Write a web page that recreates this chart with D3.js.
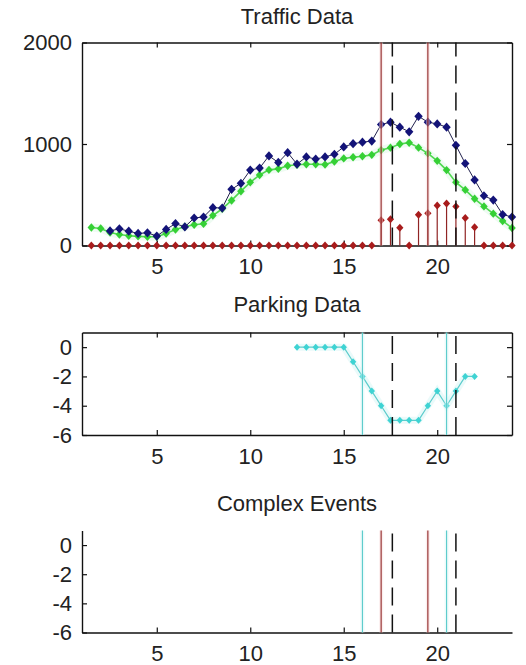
<!DOCTYPE html>
<html>
<head>
<meta charset="utf-8">
<script src="https://cdn.jsdelivr.net/npm/d3@7"></script>
<style>
  html, body { margin: 0; padding: 0; background: #fff; }
  svg text { font-family: "Liberation Sans", Arial, sans-serif; fill: #222; }
</style>
</head>
<body>
<svg id="chart" width="526" height="665"></svg>
<script>
// ---------------- data ----------------
const hours = [1.5, 2, 2.5, 3, 3.5, 4, 4.5, 5, 5.5, 6,
               6.5, 7, 7.5, 8, 8.5, 9, 9.5, 10, 10.5, 11,
               11.5, 12, 12.5, 13, 13.5, 14, 14.5, 15, 15.5, 16,
               16.5, 17, 17.5, 18, 18.5, 19, 19.5, 20, 20.5, 21,
               21.5, 22, 22.5, 23, 23.5, 24];
const trafficBlue = [null, null, 144, 164, 141, 119, 125, 93, 158, 216,
                     183, 271, 281, 373, 369, 553, 613, 743, 763, 883,
                     818, 915, 802, 873, 851, 873, 899, 971, 1003, 1018,
                     1029, 1192, 1215, 1166, 1120, 1273, 1215, 1198, 1166, 987,
                     808, 646, 490, 448, 305, 281];
const trafficGreen = [178, 168, 128, 108, 96, 90, 86, 86, 118, 158,
                      185, 205, 214, 295, 362, 444, 535, 622, 695, 745,
                      755, 785, 795, 800, 800, 797, 827, 858, 870, 880,
                      893, 940, 964, 1000, 1013, 964, 908, 834, 743, 622,
                      548, 460, 385, 314, 242, 172];
const trafficRed = [0, 0, 0, 0, 0, 0, 0, 0, 0, 0,
                    0, 0, 0, 0, 0, 0, 0, 0, 0, 0,
                    0, 0, 0, 0, 0, 0, 0, 0, 0, 0,
                    0, 249, 259, 174, 0, 302, 317, 395, 415, 385,
                    270, 180, 0, 0, 0, 0];
const parkingHours = [12.5, 13, 13.5, 14, 14.5, 15, 15.5, 16, 16.5, 17,
                      17.5, 18, 18.5, 19, 19.5, 20, 20.5, 21, 21.5, 22];
const parkingValues = [0, 0, 0, 0, 0, 0, -1, -2, -3, -4,
                       -5, -5, -5, -5, -4, -3, -4, -3, -2, -2];
const redEvents = [17, 19.5];
const cyanEvents = [16, 20.5];
const dashedEvents = [17.6, 21.0];
const xTicks = [5, 10, 15, 20];
const trafficYTicks = [0, 1000, 2000];
const parkingYTicks = [0, -2, -4, -6];
const titles = ["Traffic Data", "Parking Data", "Complex Events"];

// ---------------- layout ----------------
const svg = d3.select("#chart");
const FONT = 22;
const x = d3.scaleLinear().domain([1, 24]).range([82, 512]);
const yT = d3.scaleLinear().domain([0, 2000]).range([245.5, 42.5]);
const yP = d3.scaleLinear().domain([-6, 1]).range([435, 332.5]);
const yC = d3.scaleLinear().domain([-6, 1]).range([632.5, 530.5]);

const C = {
  blue: "#131378", blueLine: "#22224e",
  green: "#35d035", greenLine: "#4fd84f", greenHalo: "#ddf8e6",
  red: "#a81c1c", redLine: "#902424", redHalo: "#f8dada",
  cyan: "#3ed3d3", cyanLine: "#5ccccc", cyanHalo: "#d6f6f6"
};
const fmt = d => String(d);

function diamond(w, h) { return `M0,${-h}L${w},0L0,${h}L${-w},0Z`; }

function styleAxis(g, labels) {
  g.select(".domain").attr("stroke", "#111").attr("stroke-width", 1.4);
  g.selectAll(".tick line").attr("stroke", "#111").attr("stroke-width", 1.2);
  g.selectAll(".tick text").attr("font-size", FONT).attr("font-family", "Liberation Sans, Arial, sans-serif").attr("fill", "#222");
  if (!labels) g.selectAll(".tick text").remove();
}

function drawAxes(y, yTicks, box) {
  const [y0, y1] = y.range();
  const gb = svg.append("g").attr("transform", `translate(0,${y0})`)
    .call(d3.axisBottom(x).tickValues(xTicks).tickFormat(fmt).tickSizeInner(-5).tickSizeOuter(0).tickPadding(13));
  styleAxis(gb, true);
  const gl = svg.append("g").attr("transform", `translate(${x.range()[0]},0)`)
    .call(d3.axisLeft(y).tickValues(yTicks).tickFormat(fmt).tickSizeInner(-5).tickSizeOuter(0).tickPadding(10));
  styleAxis(gl, true);
  if (box) {
    const gt = svg.append("g").attr("transform", `translate(0,${y1})`)
      .call(d3.axisTop(x).tickValues(xTicks).tickSizeInner(-5).tickSizeOuter(0));
    styleAxis(gt, false);
    const gr = svg.append("g").attr("transform", `translate(${x.range()[1]},0)`)
      .call(d3.axisRight(y).tickValues(yTicks).tickSizeInner(-5).tickSizeOuter(0));
    styleAxis(gr, false);
  }
}

function eventLines(y, vals, color, halo, dashed) {
  const [y0, y1] = y.range();
  const g = svg.append("g");
  if (halo) {
    g.selectAll("line.h").data(vals).join("line")
      .attr("x1", d => x(d)).attr("x2", d => x(d))
      .attr("y1", y0).attr("y2", y1)
      .attr("stroke", halo).attr("stroke-width", 4).attr("opacity", 0.45);
  }
  g.selectAll("line.m").data(vals).join("line")
    .attr("x1", d => x(d)).attr("x2", d => x(d))
    .attr("y1", y0).attr("y2", y1)
    .attr("stroke", color).attr("stroke-width", dashed ? 1.5 : 1.1)
    .attr("stroke-dasharray", dashed ? "18,9" : null);
}

function title(text, cx, baseline) {
  svg.append("text").attr("x", cx).attr("y", baseline)
    .attr("text-anchor", "middle").attr("font-size", FONT).text(text);
}

// ---------------- panel 1: traffic ----------------
title(titles[0], 297, 23.5);
const traffic = hours.map((h, i) => ({ h, b: trafficBlue[i], g: trafficGreen[i], r: trafficRed[i] }));

const lineG = d3.line().x(d => x(d.h)).y(d => yT(d.g));
svg.append("path").datum(traffic).attr("d", lineG).attr("fill", "none")
  .attr("stroke", C.greenHalo).attr("stroke-width", 8).attr("opacity", 0.5);
svg.append("path").datum(traffic).attr("d", lineG).attr("fill", "none")
  .attr("stroke", C.greenLine).attr("stroke-width", 1.6);
svg.append("g").selectAll("path").data(traffic).join("path")
  .attr("d", diamond(3.8, 4.2)).attr("transform", d => `translate(${x(d.h)},${yT(d.g)})`)
  .attr("fill", C.green);

const blueData = traffic.filter(d => d.b !== null);
const lineB = d3.line().x(d => x(d.h)).y(d => yT(d.b));
svg.append("path").datum(blueData).attr("d", lineB).attr("fill", "none")
  .attr("stroke", C.blueLine).attr("stroke-width", 1);
svg.append("g").selectAll("path").data(blueData).join("path")
  .attr("d", diamond(4.2, 4.6)).attr("transform", d => `translate(${x(d.h)},${yT(d.b)})`)
  .attr("fill", C.blue);

drawAxes(yT, trafficYTicks, true);

svg.append("g").selectAll("line").data(traffic.filter(d => d.r > 0)).join("line")
  .attr("x1", d => x(d.h)).attr("x2", d => x(d.h))
  .attr("y1", yT(0)).attr("y2", d => yT(d.r))
  .attr("stroke", C.redLine).attr("stroke-width", 1.2);
svg.append("g").selectAll("path").data(traffic).join("path")
  .attr("d", diamond(3.6, 4)).attr("transform", d => `translate(${x(d.h)},${yT(d.r)})`)
  .attr("fill", C.red);

eventLines(yT, redEvents, C.redLine, C.redHalo, false);
eventLines(yT, dashedEvents, "#111", null, true);

// ---------------- panel 2: parking ----------------
title(titles[1], 297, 311.5);
const parking = parkingHours.map((h, i) => ({ h, v: parkingValues[i] }));
const lineP = d3.line().x(d => x(d.h)).y(d => yP(d.v));
svg.append("path").datum(parking).attr("d", lineP).attr("fill", "none")
  .attr("stroke", C.cyanHalo).attr("stroke-width", 7).attr("opacity", 0.5);
svg.append("path").datum(parking).attr("d", lineP).attr("fill", "none")
  .attr("stroke", C.cyanLine).attr("stroke-width", 1.2);
svg.append("g").selectAll("path").data(parking).join("path")
  .attr("d", diamond(3.2, 3.5)).attr("transform", d => `translate(${x(d.h)},${yP(d.v)})`)
  .attr("fill", C.cyan);

drawAxes(yP, parkingYTicks, true);
eventLines(yP, cyanEvents, C.cyanLine, C.cyanHalo, false);
eventLines(yP, dashedEvents, "#111", null, true);

// ---------------- panel 3: complex events ----------------
title(titles[2], 297, 510.5);
drawAxes(yC, parkingYTicks, false);
eventLines(yC, cyanEvents, C.cyanLine, C.cyanHalo, false);
eventLines(yC, redEvents, C.redLine, C.redHalo, false);
eventLines(yC, dashedEvents, "#111", null, true);
</script>
</body>
</html>
